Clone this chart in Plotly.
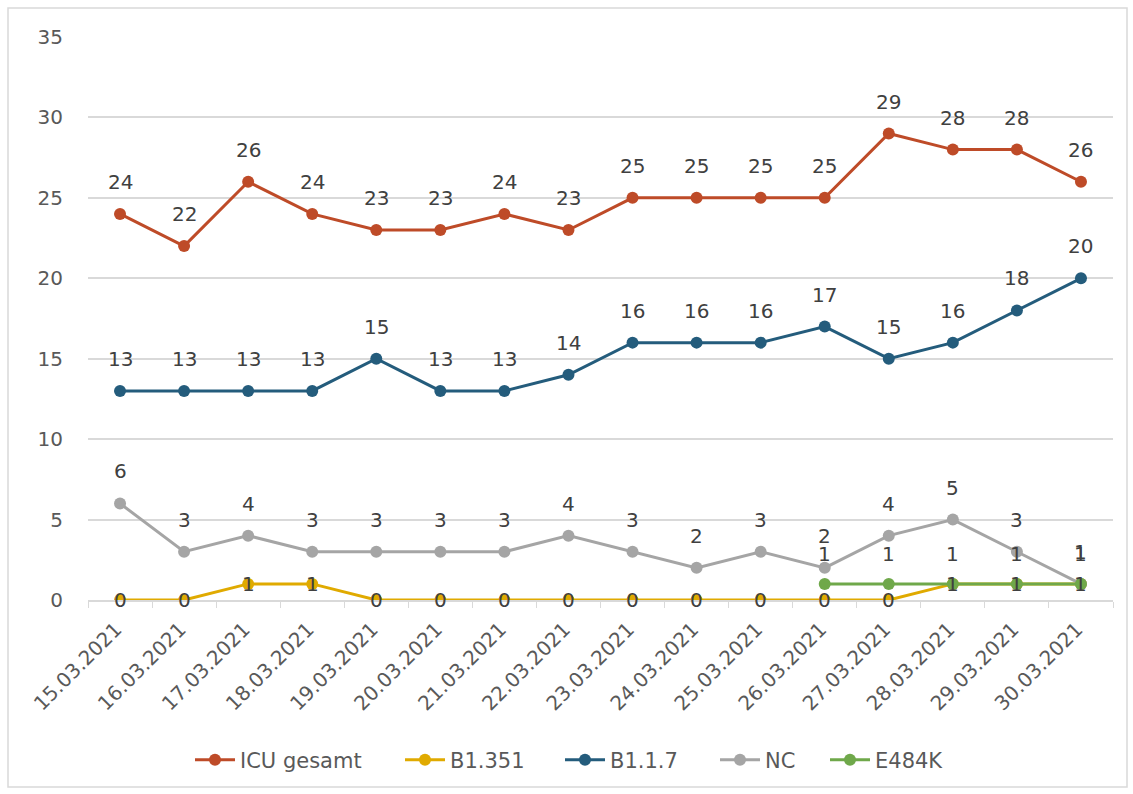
import plotly.graph_objects as go

dates = ["15.03.2021", "16.03.2021", "17.03.2021", "18.03.2021", "19.03.2021", "20.03.2021",
         "21.03.2021", "22.03.2021", "23.03.2021", "24.03.2021", "25.03.2021", "26.03.2021",
         "27.03.2021", "28.03.2021", "29.03.2021", "30.03.2021"]
icu = [24, 22, 26, 24, 23, 23, 24, 23, 25, 25, 25, 25, 29, 28, 28, 26]
b1351 = [0, 0, 1, 1, 0, 0, 0, 0, 0, 0, 0, 0, 0, 1, 1, 1]
b117 = [13, 13, 13, 13, 15, 13, 13, 14, 16, 16, 16, 17, 15, 16, 18, 20]
nc = [6, 3, 4, 3, 3, 3, 3, 4, 3, 2, 3, 2, 4, 5, 3, 1]
e484k = [None] * 11 + [1, 1, 1, 1, 1]

# (name, values, colour, label yshift, legend symbol start px)
series = [
    ("ICU gesamt", icu, "#BE4B28", 32, 200),
    ("B1.351", b1351, "#E0AA00", 0, 410),
    ("B1.1.7", b117, "#245C7C", 32, 570),
    ("NC", nc, "#A5A5A5", 32, 725),
    ("E484K", e484k, "#6FA84A", 30, 835),
]

FONT = "DejaVu Sans"
TXT = "#595959"

# plot area in pixels: x 88..1113, y 37..600
pw, ph = 1025, 563
def px(x):
    return (x - 88) / pw
def py(y):
    return (600 - y) / ph

fig = go.Figure()
annotations = []
legends = {}
for i, (name, vals, color, shift, lx) in enumerate(series):
    lname = "legend" if i == 0 else f"legend{i + 1}"
    fig.add_trace(go.Scatter(
        x=dates, y=vals, name=name, mode="lines+markers",
        line=dict(color=color, width=3),
        marker=dict(color=color, size=12),
        connectgaps=False, legend=lname,
    ))
    legends[lname] = dict(
        x=px(lx - 10), xanchor="left", y=py(760), yanchor="middle",
        orientation="h", font=dict(family=FONT, size=21, color=TXT),
        itemwidth=40, bgcolor="rgba(0,0,0,0)",
    )
    for d, v in zip(dates, vals):
        if v is None:
            continue
        annotations.append(dict(
            x=d, y=v, xref="x", yref="y", text=str(v), showarrow=False,
            yshift=shift, font=dict(family=FONT, size=20, color="#404040"),
        ))

shapes = [dict(type="rect", xref="paper", yref="paper",
               x0=px(8), x1=px(1127), y0=py(787), y1=py(8),
               line=dict(color="#D9D9D9", width=1.5), layer="below")]

fig.update_layout(
    width=1133, height=794,
    margin=dict(l=88, r=20, t=37, b=194, autoexpand=False),
    paper_bgcolor="white", plot_bgcolor="white",
    font=dict(family=FONT, size=20, color=TXT),
    showlegend=True,
    annotations=annotations,
    shapes=shapes,
    xaxis=dict(
        type="category", tickangle=-45, ticks="outside", tickson="boundaries",
        ticklen=6, tickcolor="#D9D9D9", showline=True, linecolor="#D9D9D9", linewidth=1.5,
        showgrid=False, automargin=False, range=[-0.5, 15.5],
        ticklabelstandoff=8, ticklabelshift=-4,
        tickfont=dict(family=FONT, size=20, color=TXT),
    ),
    yaxis=dict(
        range=[0, 35], tick0=0, dtick=5, showgrid=True, gridcolor="#D9D9D9", gridwidth=1.5,
        zeroline=False, showline=False, ticks="", ticklabelstandoff=24, automargin=False,
        tickfont=dict(family=FONT, size=20, color=TXT),
    ),
)
fig.update_layout(**legends)

fig.write_html("out.html")
